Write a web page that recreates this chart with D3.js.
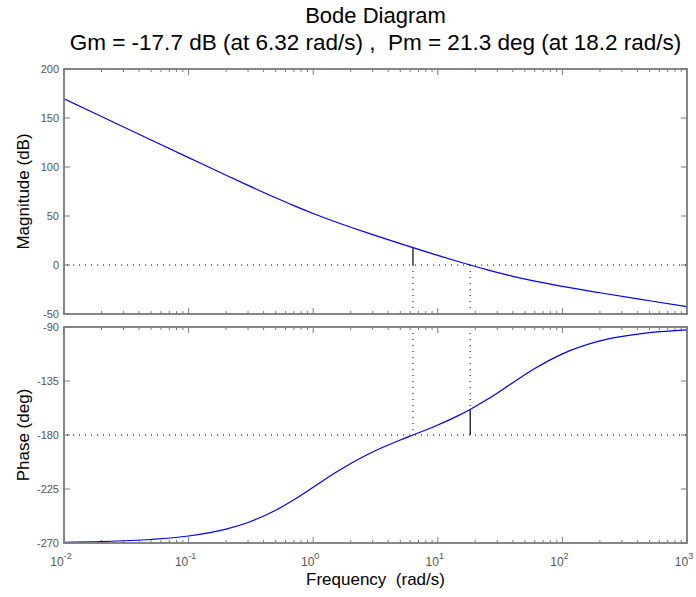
<!DOCTYPE html>
<html><head><meta charset="utf-8">
<script src="https://cdn.jsdelivr.net/npm/d3@7"></script>
<style>
body{margin:0;background:#fff;}
text{font-family:"Liberation Sans",Arial,Helvetica,sans-serif;}
</style></head>
<body><svg id="c" width="696" height="597"></svg>
<script>
const freqs = [0.01,0.02,0.05,0.1,0.2,0.3,0.5,0.7,1,1.5,2,3,5,6.32,8,10,15,18.2,25,40,60,100,200,500,1000];
const magDb = [169.54,151.48,127.61,109.59,91.65,81.29,68.57,60.57,52.56,44.10,38.48,30.94,21.82,17.73,13.66,9.85,3.09,-0.03,-4.94,-11.53,-16.46,-21.85,-28.35,-36.45,-42.49];
const phaseDeg = [-269.41,-268.83,-267.07,-264.15,-258.40,-252.87,-242.71,-234.01,-223.57,-211.54,-203.71,-194.14,-184.18,-180.01,-175.82,-171.67,-163.25,-158.68,-150.28,-136.43,-124.64,-112.37,-101.60,-94.69,-92.35];
const magTicks = [200,150,100,50,0,-50];
const phaseTicks = [-90,-135,-180,-225,-270];
const xDecades = [-2,-1,0,1,2,3];
const gm = {w:6.32, db:17.73};
const pm = {w:18.2, ph:-158.68};
const titleLines = ["Bode Diagram","Gm = -17.7 dB (at 6.32 rad/s) ,  Pm = 21.3 deg (at 18.2 rad/s)"];

(function(){
const svg = d3.select("#c");
const L=64, R=687;
const x = d3.scaleLog().domain([0.01,1000]).range([L,R]);
const yM = d3.scaleLinear().domain([-50,200]).range([314,69]);
const yP = d3.scaleLinear().domain([-270,-90]).range([543,327]);
const gray="#7a7a7a";

const minor=[];
xDecades.slice(0,-1).forEach(d=>{for(let k=2;k<=9;k++)minor.push(k*Math.pow(10,d));});
const major=xDecades.map(d=>Math.pow(10,d));

function panel(y, ticks, yLabel){
  const [yb,yt]=y.range();
  const g=svg.append("g");
  const id="clip"+yt;
  svg.append("clipPath").attr("id",id).append("rect").attr("x",L).attr("y",yt).attr("width",R-L).attr("height",yb-yt);
  minor.forEach(v=>{
    g.append("line").attr("x1",x(v)).attr("x2",x(v)).attr("y1",yb).attr("y2",yb-3).attr("stroke",gray);
    g.append("line").attr("x1",x(v)).attr("x2",x(v)).attr("y1",yt).attr("y2",yt+3).attr("stroke",gray);
  });
  major.forEach(v=>{
    g.append("line").attr("x1",x(v)).attr("x2",x(v)).attr("y1",yb).attr("y2",yb-6).attr("stroke",gray);
    g.append("line").attr("x1",x(v)).attr("x2",x(v)).attr("y1",yt).attr("y2",yt+6).attr("stroke",gray);
  });
  ticks.forEach(v=>{
    g.append("line").attr("x1",L).attr("x2",L+6).attr("y1",y(v)).attr("y2",y(v)).attr("stroke",gray);
    g.append("line").attr("x1",R).attr("x2",R-6).attr("y1",y(v)).attr("y2",y(v)).attr("stroke",gray);
    g.append("text").attr("x",L-5).attr("y",y(v)+4).attr("text-anchor","end").attr("font-size",11).attr("fill","#555").text(v);
  });
  g.append("text").attr("transform",`translate(29,${(yb+yt)/2}) rotate(-90)`).attr("text-anchor","middle").attr("font-size",17).text(yLabel);
  return {g,id,yb,yt};
}

const pTop=panel(yM,magTicks,"Magnitude (dB)");
const pBot=panel(yP,phaseTicks,"Phase (deg)");

function dl(x1,y1,x2,y2){svg.append("line").attr("x1",x1).attr("y1",y1).attr("x2",x2).attr("y2",y2).attr("stroke","#000").attr("stroke-width",1).attr("stroke-dasharray","1,5");}
dl(L+3,yM(0),R,yM(0));
dl(L+3,yP(-180),R,yP(-180));
dl(x(gm.w),yM(0),x(gm.w),yM(-50));
dl(x(pm.w),yM(0),x(pm.w),yM(-50));
dl(x(gm.w),yP(-90),x(gm.w),yP(-180));
dl(x(pm.w),yP(-90),x(pm.w),yP(pm.ph));
svg.append("line").attr("x1",x(gm.w)).attr("x2",x(gm.w)).attr("y1",yM(0)).attr("y2",yM(gm.db)).attr("stroke","#000").attr("stroke-width",1.2);
svg.append("line").attr("x1",x(pm.w)).attr("x2",x(pm.w)).attr("y1",yP(-180)).attr("y2",yP(pm.ph)).attr("stroke","#000").attr("stroke-width",1.2);

const pts=freqs.map((f,i)=>({f,m:magDb[i],p:phaseDeg[i]}));
svg.append("path").datum(pts).attr("clip-path",`url(#${pTop.id})`).attr("fill","none").attr("stroke","#0000ff").attr("stroke-width",1.2)
  .attr("d",d3.line().x(d=>x(d.f)).y(d=>yM(d.m)).curve(d3.curveMonotoneX));
svg.append("path").datum(pts).attr("clip-path",`url(#${pBot.id})`).attr("fill","none").attr("stroke","#0000ff").attr("stroke-width",1.2)
  .attr("d",d3.line().x(d=>x(d.f)).y(d=>yP(d.p)).curve(d3.curveMonotoneX));

[pTop,pBot].forEach(p=>{
  svg.append("rect").attr("x",L).attr("y",p.yt).attr("width",R-L).attr("height",p.yb-p.yt).attr("fill","none").attr("stroke",gray).attr("stroke-width",1.8);
});

xDecades.forEach(d=>{
  const t=svg.append("text").attr("x",x(Math.pow(10,d))-3).attr("y",566).attr("text-anchor","middle").attr("font-size",12).attr("fill","#555");
  t.append("tspan").text("10");
  t.append("tspan").attr("dy",-7).attr("font-size",9).text(d);
});

svg.append("text").attr("x",(L+R)/2).attr("y",585).attr("text-anchor","middle").attr("font-size",17).style("white-space","pre").text("Frequency  (rad/s)");
svg.append("text").attr("x",(L+R)/2).attr("y",23).attr("text-anchor","middle").attr("font-size",22).text(titleLines[0]);
svg.append("text").attr("x",(L+R)/2).attr("y",50).attr("text-anchor","middle").attr("font-size",22.5).style("white-space","pre").text(titleLines[1]);
})();
</script></body></html>
